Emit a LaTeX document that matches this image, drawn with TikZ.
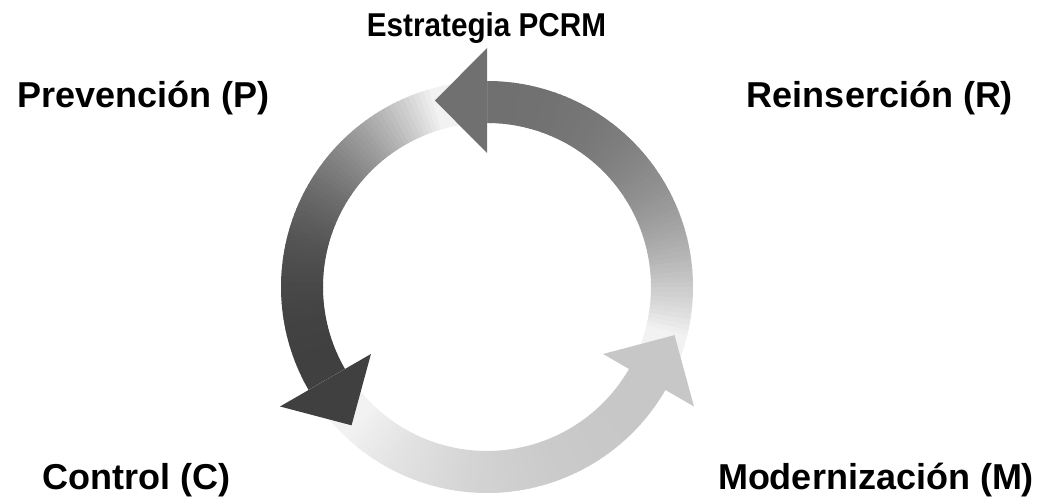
\documentclass[tikz,border=0pt]{standalone}
\usepackage{fontspec}
\setmainfont{Liberation Sans}
\newfontfamily\narrowfont[FakeStretch=0.9]{Liberation Sans}
\usetikzlibrary{positioning}

\tikzset{
  stage/.style={font=\fontsize{36}{40}\selectfont\bfseries, anchor=base, inner sep=0pt},
  title/.style={font=\narrowfont\fontsize{33}{38}\selectfont\bfseries, anchor=base, inner sep=0pt}
}

\begin{document}
\begin{tikzpicture}[x=1pt, y=1pt]
  \def\rin{164}
  \def\rout{206}
  \def\headin{134}
  \def\headout{239}
  \def\tipr{193.6}
  \def\tipa{15.6}

  \useasboundingbox (0,0) rectangle (1053,498);
  \coordinate (ctr) at (487,211);

  \begin{scope}[shift={(ctr)}]
    % Draw the shafts, fading from white at the tail
    \foreach \base/\dhead in {90/56, 210/75, 330/22}{
      \foreach \k in {0,...,79}{
        \pgfmathsetmacro\a{\base-120+1.5*\k}
        \pgfmathsetmacro\b{\a+1.7}
        \pgfmathsetmacro\t{max(0,(\a-\base+105)/105)}
        \pgfmathsetmacro\d{\dhead-(\dhead-5)*(1-\t)^2.5}
        \fill[black!\d] (\a:\rin) arc[start angle=\a, end angle=\b, radius=\rin]
          -- (\b:\rout) arc[start angle=\b, end angle=\a, radius=\rout] -- cycle;
      }
    }

    % Draw the arrow heads on top
    \foreach \base/\dhead in {90/56, 210/75, 330/22}{
      \pgfmathsetmacro\c{\base+\tipa}
      \fill[black!\dhead] (\base:\headin) -- (\base:\headout) -- (\c:\tipr) -- cycle;
    }
  \end{scope}

  % Labels
  \node[title] (strat) at (486.5,461) {Estrategia PCRM};
  \node[stage] (prev) at (143.5,390) {Prevención (P)};
  \node[stage] (reins) at (880,390) {Reinserción (R)};
  \node[stage] (ctrl) at (136.5,8) {Control (C)};
  \node[stage] (modern) at (876,8) {Modernización (M)};

\end{tikzpicture}
\end{document}
